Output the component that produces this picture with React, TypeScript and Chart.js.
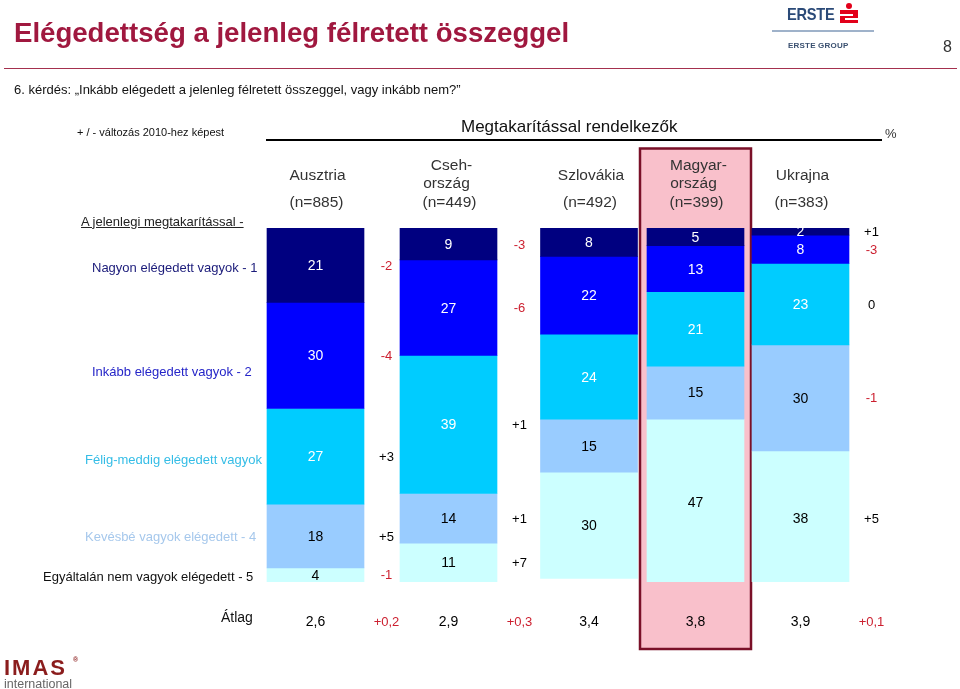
import React, { useEffect, useRef } from "react";
import { Chart, registerables } from "chart.js";

Chart.register(...registerables);

// ---------- DATA ----------
const COUNTRY_HEADERS: string[][] = [["Ausztria"], ["Cseh-", "ország"], ["Szlovákia"], ["Magyar-", "ország"], ["Ukrajna"]];
const SAMPLE_SIZES = [885, 449, 492, 399, 383];
const LEVEL_LABELS = [
  "Nagyon elégedett vagyok - 1",
  "Inkább elégedett vagyok - 2",
  "Félig-meddig elégedett vagyok",
  "Kevésbé vagyok elégedett - 4",
  "Egyáltalán nem vagyok elégedett - 5",
];
const VERY_SATISFIED = [21, 9, 8, 5, 2];
const RATHER_SATISFIED = [30, 27, 22, 13, 8];
const HALF_SATISFIED = [27, 39, 24, 21, 23];
const LESS_SATISFIED = [18, 14, 15, 15, 30];
const NOT_SATISFIED = [4, 11, 30, 47, 38];

const CHANGE_VERY = [-2, -3, null, null, 1];
const CHANGE_RATHER = [-4, -6, null, null, -3];
const CHANGE_HALF = [3, 1, null, null, 0];
const CHANGE_LESS = [5, 1, null, null, -1];
const CHANGE_NOT = [-1, 7, null, null, 5];

const AVERAGE = [2.6, 2.9, 3.4, 3.8, 3.9];
const AVERAGE_CHANGE = [0.2, 0.3, null, null, 0.1];

const HIGHLIGHT_INDEX = 3;

// ---------- LAYOUT / STYLE ----------
const LEVEL_VALUES = [VERY_SATISFIED, RATHER_SATISFIED, HALF_SATISFIED, LESS_SATISFIED, NOT_SATISFIED];
const LEVEL_CHANGES = [CHANGE_VERY, CHANGE_RATHER, CHANGE_HALF, CHANGE_LESS, CHANGE_NOT];
const LEVEL_COLORS = ["#000080", "#0000FF", "#00CCFF", "#99CCFF", "#CCFFFF"];
const LABEL_COLORS = ["#FFFFFF", "#FFFFFF", "#FFFFFF", "#000000", "#000000"];
const COLUMN_X = [315.5, 448.5, 589, 695.5, 800.5];
const BAR_WIDTH = 97;
const FONT = "'Liberation Sans', Arial, Helvetica, sans-serif";
const RED = "#CC1F2F";

const fmtChange = (v: number) => (v > 0 ? "+" + v : String(v));
const fmtDec = (v: number) => v.toFixed(1).replace(".", ",");

const overlayPlugin = {
  id: "overlay",
  beforeDatasetsDraw(chart: any) {
    const ctx = chart.ctx;
    const el = chart.getDatasetMeta(0).data[HIGHLIGHT_INDEX];
    const left = el.x - 55.5;
    const top = 148.5;
    const w = 111;
    const h = 500.5;
    ctx.save();
    ctx.fillStyle = "#F9C0CB";
    ctx.fillRect(left, top, w, h);
    ctx.strokeStyle = "#7A1028";
    ctx.lineWidth = 2.5;
    ctx.strokeRect(left, top, w, h);
    ctx.restore();
  },
  afterDatasetsDraw(chart: any) {
    const ctx = chart.ctx;
    const area = chart.chartArea;
    ctx.save();
    ctx.textAlign = "center";
    ctx.textBaseline = "middle";
    // segment values + changes
    LEVEL_VALUES.forEach((vals, li) => {
      const meta = chart.getDatasetMeta(li);
      meta.data.forEach((el: any, ci: number) => {
        const cy = (el.y + el.base) / 2;
        ctx.font = `14px ${FONT}`;
        ctx.fillStyle = LABEL_COLORS[li];
        ctx.fillText(String(vals[ci]), el.x, cy + 1);
        const ch = LEVEL_CHANGES[li][ci];
        if (ch !== null && ch !== undefined) {
          ctx.font = `13px ${FONT}`;
          ctx.fillStyle = ch < 0 ? RED : "#000000";
          ctx.fillText(fmtChange(ch), el.x + 71, cy + 1);
        }
      });
    });
    // headers + averages
    const meta0 = chart.getDatasetMeta(0);
    meta0.data.forEach((el: any, ci: number) => {
      ctx.font = `15.5px ${FONT}`;
      ctx.fillStyle = "#333333";
      const lines = COUNTRY_HEADERS[ci];
      if (lines.length === 2) {
        ctx.fillText(lines[0], el.x + 3, area.top - 62);
        ctx.fillText(lines[1], el.x - 2, area.top - 44);
      } else {
        ctx.fillText(lines[0], el.x + 2, area.top - 52);
      }
      ctx.fillText(`(n=${SAMPLE_SIZES[ci]})`, el.x + 1, area.top - 25);
      ctx.font = `14px ${FONT}`;
      ctx.fillStyle = "#000000";
      ctx.fillText(fmtDec(AVERAGE[ci]), el.x, area.bottom + 40);
      const ac = AVERAGE_CHANGE[ci];
      if (ac !== null && ac !== undefined) {
        ctx.font = `13px ${FONT}`;
        ctx.fillStyle = RED;
        ctx.fillText((ac > 0 ? "+" : "") + fmtDec(ac), el.x + 71, area.bottom + 40);
      }
    });
    ctx.restore();
  },
};

type TProps = {
  x: number;
  y: number;
  size: number;
  color?: string;
  bold?: boolean;
  underline?: boolean;
  style?: React.CSSProperties;
  children: React.ReactNode;
};

function T({ x, y, size, color = "#111", bold, underline, style, children }: TProps) {
  return (
    <div
      style={{
        position: "absolute",
        left: x,
        top: y - size / 2,
        fontSize: size,
        lineHeight: 1,
        fontFamily: FONT,
        fontWeight: bold ? "bold" : "normal",
        textDecoration: underline ? "underline" : "none",
        color,
        whiteSpace: "nowrap",
        ...style,
      }}
    >
      {children}
    </div>
  );
}

export default function App() {
  const canvasRef = useRef<HTMLCanvasElement | null>(null);

  useEffect(() => {
    if (!canvasRef.current) return;
    const chart = new Chart(canvasRef.current, {
      type: "bar",
      data: {
        datasets: LEVEL_VALUES.map((vals, li) => ({
          label: LEVEL_LABELS[li],
          data: vals.map((v, ci) => ({ x: COLUMN_X[ci], y: v })),
          backgroundColor: LEVEL_COLORS[li],
          borderWidth: 0,
          barThickness: BAR_WIDTH,
          clip: 0,
        })),
      },
      options: {
        animation: false,
        responsive: false,
        devicePixelRatio: 1,
        layout: { padding: { top: 228, bottom: 107, left: 0, right: 0 } },
        scales: {
          x: { type: "linear", min: 0, max: 960, offset: false, stacked: true, display: false },
          y: { stacked: true, reverse: true, min: 0, max: 100, display: false },
        },
        plugins: { legend: { display: false }, tooltip: { enabled: false } },
      } as any,
      plugins: [overlayPlugin],
    });
    return () => chart.destroy();
  }, []);

  const labelPos = [
    { x: 92, y: 267.5, c: "#1B1B7A" },
    { x: 92, y: 371, c: "#2525C8" },
    { x: 85, y: 459.5, c: "#35BDE6" },
    { x: 85, y: 536, c: "#A6C8EC" },
    { x: 43, y: 576, c: "#111111" },
  ];

  return (
    <div style={{ position: "absolute", left: 0, top: 0, width: 960, height: 689, background: "#fff", overflow: "hidden" }}>
      <canvas ref={canvasRef} width={960} height={689} style={{ position: "absolute", left: 0, top: 0 }} />

      {/* Title */}
      <T x={14} y={33} size={27.6} bold color="#A0183F">Elégedettség a jelenleg félretett összeggel</T>
      <T x={943} y={47} size={16} color="#333">8</T>
      <div style={{ position: "absolute", left: 4, top: 67.5, width: 953, height: 1.5, background: "#A4304E" }} />
      <T x={14} y={89.5} size={13}>6. kérdés: „Inkább elégedett a jelenleg félretett összeggel, vagy inkább nem?”</T>
      <T x={77} y={132.5} size={11}>+ / - változás 2010-hez képest</T>
      <T x={461} y={126.5} size={17} color="#111">Megtakarítással rendelkezők</T>
      <T x={885} y={133} size={13} color="#333">%</T>
      <div style={{ position: "absolute", left: 266, top: 139, width: 616, height: 2, background: "#000" }} />

      {/* ERSTE logo */}
      <div
        style={{
          position: "absolute",
          left: 787,
          top: 6,
          fontFamily: FONT,
          fontWeight: "bold",
          fontSize: 17,
          lineHeight: 1,
          color: "#2B4A78",
          transform: "scaleX(0.86)",
          transformOrigin: "left top",
          letterSpacing: -0.3,
        }}
      >
        ERSTE
      </div>
      <div style={{ position: "absolute", left: 846, top: 3, width: 6, height: 6, borderRadius: "50%", background: "#E2001A" }} />
      <div style={{ position: "absolute", left: 840, top: 10, width: 18, height: 13, background: "#E2001A" }} />
      <div style={{ position: "absolute", left: 840, top: 13.5, width: 13, height: 2, background: "#fff" }} />
      <div style={{ position: "absolute", left: 845, top: 17.5, width: 13, height: 2, background: "#fff" }} />
      <div style={{ position: "absolute", left: 772, top: 30, width: 102, height: 2, background: "#9FB2CA" }} />
      <T x={788} y={46} size={8} bold color="#3A5070" style={{ letterSpacing: 0.2 }}>ERSTE GROUP</T>

      {/* Row labels */}
      <T x={81} y={221} size={13} underline color="#222">A jelenlegi megtakarítással - </T>
      {LEVEL_LABELS.map((l, i) => (
        <T key={i} x={labelPos[i].x} y={labelPos[i].y} size={13} color={labelPos[i].c}>
          {l}
        </T>
      ))}
      <T x={221} y={617} size={14} color="#111">Átlag</T>

      {/* IMAS logo */}
      <T x={4} y={668} size={22} bold color="#8B1D1D" style={{ letterSpacing: 2 }}>IMAS</T>
      <T x={73} y={659} size={7} bold color="#8B1D1D">®</T>
      <T x={4} y={684} size={12.5} color="#666">international</T>
    </div>
  );
}
